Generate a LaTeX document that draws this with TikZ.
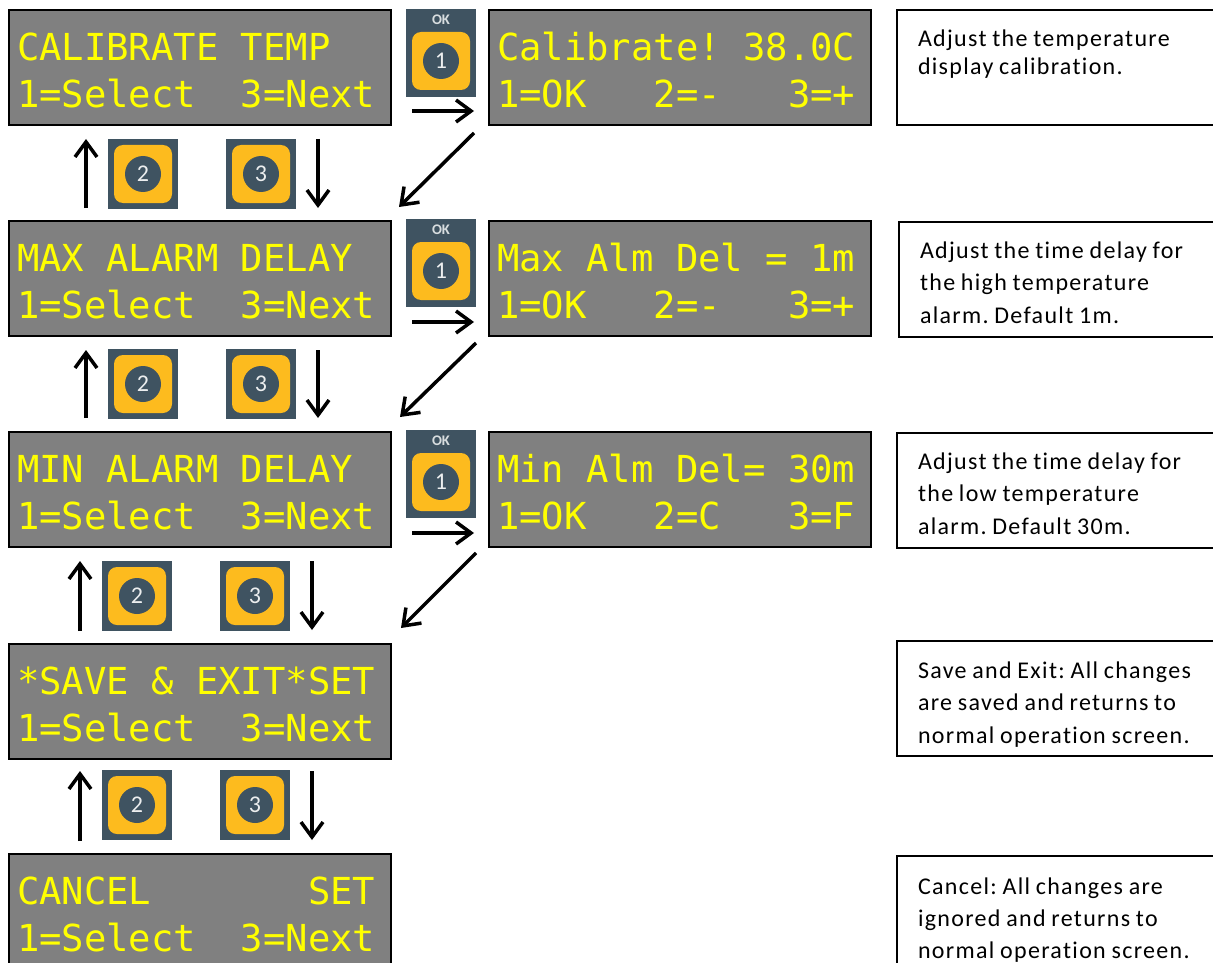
\documentclass[tikz,border=0pt]{standalone}
\usepackage{fontspec}
\usepackage{tikz}
\usetikzlibrary{arrows.meta}
\usetikzlibrary{positioning}
\usetikzlibrary{calc}
\newfontfamily\notefont[LetterSpace=5.5,WordSpace=0.85,Ligatures=NoCommon]{Carlito}
\newfontfamily\keyfont{Carlito}
\newfontfamily\lcdfont{DejaVu Sans Mono}
\def\PX{0.75pt}
\def\LcdWidth{382*\PX}
\def\LcdHeight{115*\PX}
\definecolor{lcdgray}{HTML}{808080}
\definecolor{lcdtext}{HTML}{FFFF00}
\definecolor{keyslate}{HTML}{3F5361}
\definecolor{keyamber}{HTML}{FDBB1E}
\tikzset{
	lcdbox/.style={draw=black,fill=lcdgray,text=lcdtext,line width=2*\PX,outer sep=0pt,inner sep=0pt,
		anchor=north west,minimum width=\LcdWidth,minimum height=\LcdHeight,text width=366*\PX,align=flush left,
		text height=50.5*\PX,text depth=64.5*\PX,
		font=\lcdfont\fontsize{27.9}{35.25}\selectfont},
	notebox/.style 2 args={draw=black,line width=2*\PX,outer sep=0pt,inner ysep=0pt,inner xsep=21*\PX,
		anchor=north west,minimum height=\LcdHeight,text width=300*\PX,align=flush left,
		text height=#2*\PX,text depth=115*\PX-#2*\PX,
		font=\notefont\fontsize{18}{#1}\selectfont\frenchspacing},
	keybase/.style={fill=keyslate,anchor=north west,inner sep=0pt,outer sep=0pt,minimum width=70*\PX},
	keypad/.style={fill=keyamber,rounded corners=9*\PX,inner sep=0pt,outer sep=0pt,minimum width=58*\PX,minimum height=58*\PX},
	keydot/.style={fill=keyslate,circle,inner sep=0pt,outer sep=0pt,minimum size=36*\PX,text=white!90!keyslate,
		font=\keyfont\fontsize{18}{18}\selectfont},
	flow/.style={-{Straight Barb[length=15*\PX,width=22*\PX,line width=3.5*\PX]},line width=3.5*\PX,black},
}
\newcommand{\keysq}[3]{
	\node[keybase,minimum height=70*\PX] (#1) at (#2) {};
	\node[keypad] (#1pad) at (#1.center) {};
	\node[keydot] (#1dot) at (#1.center) {#3};
}
\newcommand{\keyok}[2]{
	\node[keybase,minimum height=88*\PX] (#1) at (#2) {};
	\node[keypad] (#1pad) at ($(#1.south)+(0,-36)$) {};
	\node[keydot] (#1dot) at (#1pad.center) {1};
	\node[text=white!80!keyslate,inner sep=0pt,font=\keyfont\bfseries\fontsize{11}{11}\selectfont] (#1txt) at ($(#1.north)+(0,11)$) {OK};
}
\begin{document}
\begin{tikzpicture}[x=\PX,y=-\PX]
	\clip (0,0) rectangle (1213,963);
	% menu screens
	\node[lcdbox] (cal) at (9,10) {CALIBRATE TEMP\\1=Select~~3=Next};
	\node[lcdbox] (maxd) at (9,221) {MAX ALARM DELAY\\1=Select~~3=Next};
	\node[lcdbox] (mind) at (9,432) {MIN ALARM DELAY\\1=Select~~3=Next};
	\node[lcdbox] (save) at (9,644) {*SAVE \& EXIT*SET\\1=Select~~3=Next};
	\node[lcdbox] (cancel) at (9,854) {CANCEL~~~~~~~SET\\1=Select~~3=Next};
	% setting screens
	\node[lcdbox,right=98*\PX of cal.north east,anchor=north west] (calset) {Calibrate!~38.0C\\1=OK~~~2=-~~~3=+};
	\node[lcdbox,right=98*\PX of maxd.north east,anchor=north west] (maxset) {Max Alm Del = 1m\\1=OK~~~2=-~~~3=+};
	\node[lcdbox,right=98*\PX of mind.north east,anchor=north west] (minset) {Min Alm Del= 30m\\1=OK~~~2=C~~~3=F};
	% notes
	\node[notebox={21pt}{37}] (calnote) at (897,10) {Adjust the temperature\\display calibration.};
	\node[notebox={24.4pt}{36}] (maxnote) at (899,222) {Adjust the time delay for\\the high temperature\\alarm. Default 1m.};
	\node[notebox={24.4pt}{36}] (minnote) at (897,433) {Adjust the time delay for\\the low temperature\\alarm. Default 30m.};
	\node[notebox={24.4pt}{37}] (savenote) at (897,641) {Save and Exit: All changes\\are saved and returns to\\normal operation screen.};
	\node[notebox={24pt}{38}] (cancelnote) at (897,856) {Cancel: All changes are\\ignored and returns to\\normal operation screen.};
	% keys
	\keyok{oka}{406,9}
	\keyok{okb}{406,219}
	\keyok{okc}{406,430}
	\keysq{upa}{108,139}{2}
	\keysq{dna}{226,139}{3}
	\keysq{upb}{108,349}{2}
	\keysq{dnb}{226,349}{3}
	\keysq{upc}{102,561}{2}
	\keysq{dnc}{220,561}{3}
	\keysq{upd}{102,770}{2}
	\keysq{dnd}{220,770}{3}
	% free arrow ends
	\coordinate (ua0) at (86,208); \coordinate (ua1) at (86,139);
	\coordinate (da0) at (318,139); \coordinate (da1) at (318,208);
	\coordinate (ub0) at (86,418); \coordinate (ub1) at (86,350);
	\coordinate (db0) at (318,350); \coordinate (db1) at (318,418);
	\coordinate (uc0) at (80,631); \coordinate (uc1) at (80,561);
	\coordinate (dc0) at (312,561); \coordinate (dc1) at (312,630);
	\coordinate (ud0) at (80,841); \coordinate (ud1) at (80,771);
	\coordinate (dd0) at (312,771); \coordinate (dd1) at (312,840);
	\coordinate (ra0) at (412,111); \coordinate (ra1) at (474,111);
	\coordinate (rb0) at (412,322); \coordinate (rb1) at (474,322);
	\coordinate (rc0) at (412,533); \coordinate (rc1) at (474,533);
	\coordinate (ba0) at (474,133); \coordinate (ba1) at (399,207);
	\coordinate (bb0) at (476,343); \coordinate (bb1) at (400,417);
	\coordinate (bc0) at (476,553); \coordinate (bc1) at (401,628);
	% arrows
	\draw[flow] (ua0) -- (ua1);
	\draw[flow] (da0) -- (da1);
	\draw[flow] (ub0) -- (ub1);
	\draw[flow] (db0) -- (db1);
	\draw[flow] (uc0) -- (uc1);
	\draw[flow] (dc0) -- (dc1);
	\draw[flow] (ud0) -- (ud1);
	\draw[flow] (dd0) -- (dd1);
	\draw[flow] (ra0) -- (ra1);
	\draw[flow] (rb0) -- (rb1);
	\draw[flow] (rc0) -- (rc1);
	\draw[flow] (ba0) -- (ba1);
	\draw[flow] (bb0) -- (bb1);
	\draw[flow] (bc0) -- (bc1);
\end{tikzpicture}
\end{document}
